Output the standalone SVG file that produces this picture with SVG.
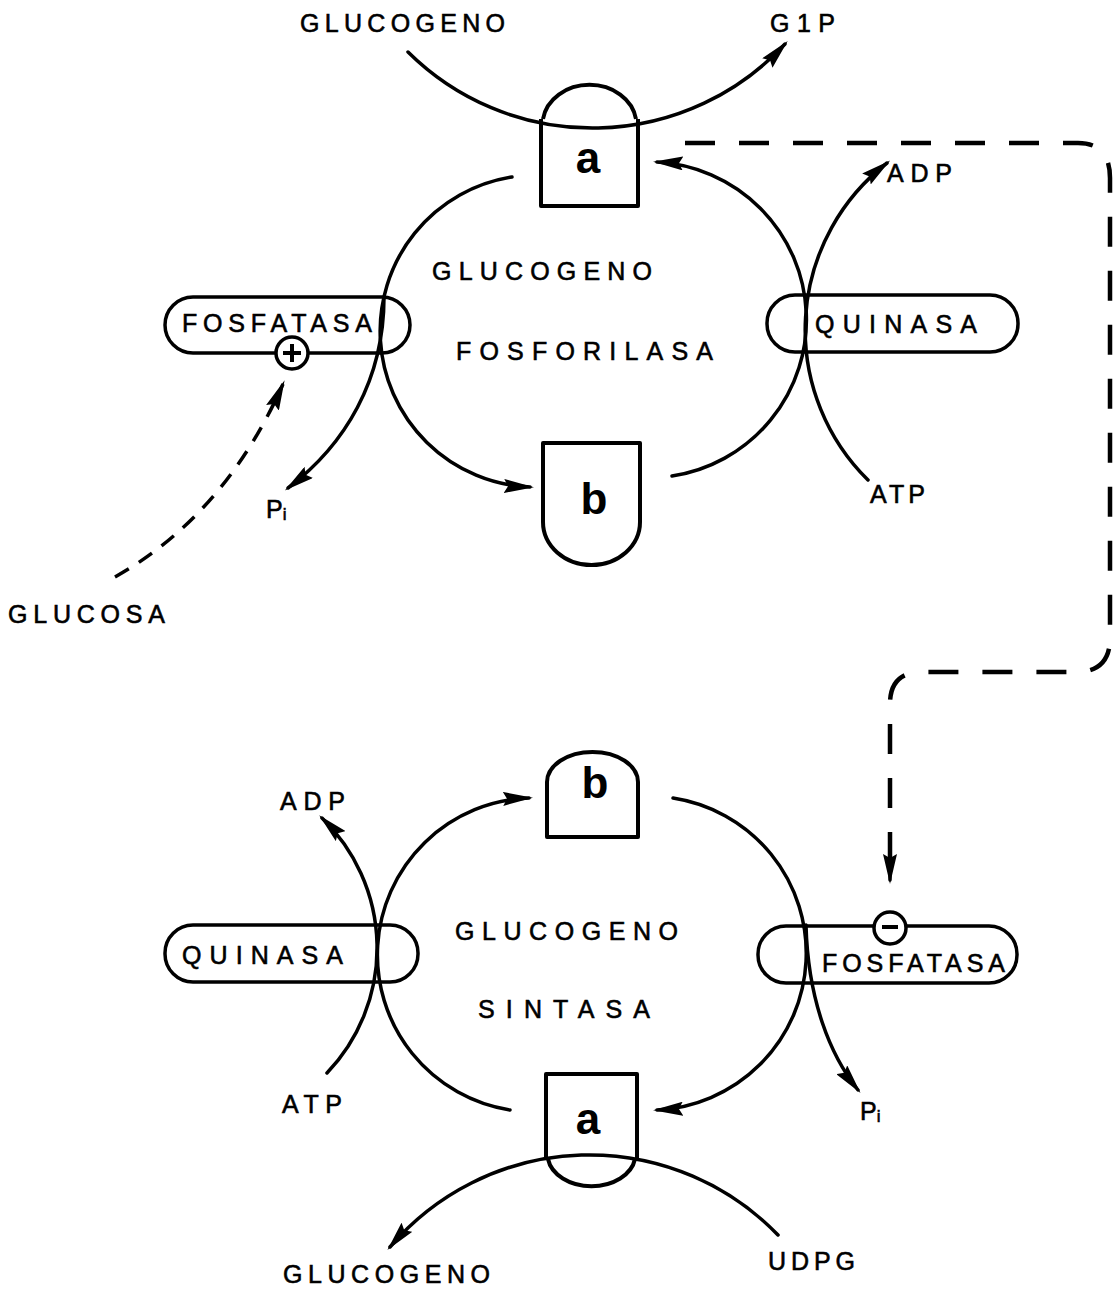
<svg xmlns="http://www.w3.org/2000/svg" width="1113" height="1291" viewBox="0 0 1113 1291">
  <style>
    .ln { fill: none; stroke: #000; stroke-width: 3.5; stroke-linecap: round; }
    .ds { fill: none; stroke: #000; stroke-width: 4.5; stroke-dasharray: 30 24; }
    .dg { fill: none; stroke: #000; stroke-width: 3.5; stroke-dasharray: 16 12; }
    .box { fill: none; stroke: #000; stroke-width: 4; stroke-linejoin: round; }
    .pill { fill: #fff; stroke: #000; stroke-width: 3.5; }
    .lbl { font-family: "Liberation Sans", Arial, sans-serif; font-size: 25px; fill: #000; stroke: #000; stroke-width: 0.6; }
    .big { font-family: "Liberation Sans", Arial, sans-serif; font-size: 44px; font-weight: bold; fill: #000; text-anchor: middle; }
    .mod { fill: #fff; stroke: #000; stroke-width: 3.5; }
  </style>
  <defs>
    <marker id="ah" viewBox="0 0 30 14" refX="26" refY="7" markerWidth="30" markerHeight="14" markerUnits="userSpaceOnUse" orient="auto">
      <path d="M0,0 L30,7 L0,14 L4,7 Z" fill="#000"/>
    </marker>
  </defs>
  <rect width="1113" height="1291" fill="#fff"/>

  <!-- enzyme pills (drawn first so the reaction arcs cross over them) -->
  <g id="fosfatasa-top">
    <rect class="pill" x="165" y="297" width="245" height="56" rx="28"/>
    <text class="lbl" x="182" y="332" textLength="190" lengthAdjust="spacing">FOSFATASA</text>
  </g>
  <g id="quinasa-top">
    <rect class="pill" x="767" y="295" width="251" height="57" rx="28"/>
    <text class="lbl" x="815" y="333" textLength="162" lengthAdjust="spacing">QUINASA</text>
  </g>
  <g id="quinasa-bottom">
    <rect class="pill" x="165" y="925" width="253" height="57" rx="28"/>
    <text class="lbl" x="182" y="964" textLength="161" lengthAdjust="spacing">QUINASA</text>
  </g>
  <g id="fosfatasa-bottom">
    <rect class="pill" x="758" y="926" width="259" height="57" rx="28"/>
    <text class="lbl" x="822" y="972" textLength="183" lengthAdjust="spacing">FOSFATASA</text>
  </g>

  <!-- connectors -->
  <g id="connectors">
    <!-- glycogen phosphorylase cycle -->
    <path class="ln" d="M408,52 A262,262 0 0,0 785,44" marker-end="url(#ah)"/>
    <path class="ln" d="M512,177 A156,156 0 0,0 530,487" marker-end="url(#ah)"/>
    <path class="ln" d="M672,476 A158,158 0 0,0 657,162" marker-end="url(#ah)"/>
    <path class="ln" d="M868,480 A211,211 0 0,1 887,163" marker-end="url(#ah)"/>
    <path class="ln" d="M384,297 C384,380 345,445 288,488" marker-end="url(#ah)"/>
    <path class="dg" d="M115,577 Q225,515 283,384" marker-end="url(#ah)"/>
    <!-- glycogen synthase cycle -->
    <path class="ln" d="M510,1110 A157,157 0 0,1 529,798" marker-end="url(#ah)"/>
    <path class="ln" d="M673,798 A157,157 0 0,1 657,1110" marker-end="url(#ah)"/>
    <path class="ln" d="M327,1073 A181,181 0 0,0 322,818" marker-end="url(#ah)"/>
    <path class="ln" d="M806,925 C808,1000 830,1055 858,1090" marker-end="url(#ah)"/>
    <path class="ln" d="M778,1235 A262,262 0 0,0 390,1247" marker-end="url(#ah)"/>
    <!-- feedback from phosphorylase a to synthase phosphatase -->
    <path class="ds" d="M685,143 H1078 Q1110,143 1110,178 V638 Q1110,672 1076,672 H922 Q890,672 890,704 V872"/>
    <path class="ln" d="M890,872 V880" marker-end="url(#ah)"/>
  </g>

  <!-- allosteric modifiers -->
  <g id="mod-plus">
    <circle class="mod" cx="292" cy="353" r="16"/>
    <path d="M292,344 V362 M283,353 H301" stroke="#000" stroke-width="4"/>
  </g>
  <g id="mod-minus">
    <circle class="mod" cx="890" cy="928" r="16"/>
    <path d="M882,927 H898" stroke="#000" stroke-width="4"/>
  </g>

  <!-- enzyme forms -->
  <g id="phos-a">
    <path class="box" d="M541,119 V206 H638 V119"/>
    <path class="box" d="M543,119 A47,40 0 0,1 636,119"/>
    <text class="big" x="588" y="173">a</text>
  </g>
  <g id="phos-b">
    <path class="box" d="M543,443 H640 V522 A48.5,43 0 0,1 543,522 Z"/>
    <text class="big" x="594" y="514">b</text>
  </g>
  <g id="synt-b">
    <path class="box" d="M547,837 H638 V782 A45.5,30 0 0,0 547,782 Z"/>
    <text class="big" x="595" y="798">b</text>
  </g>
  <g id="synt-a">
    <path class="box" d="M546,1158 V1074 H637 V1158"/>
    <path class="box" d="M548,1159 A44,32 0 0,0 635,1159"/>
    <text class="big" x="588" y="1134">a</text>
  </g>

  <!-- labels -->
  <g id="labels">
    <text class="lbl" x="300" y="32" textLength="205" lengthAdjust="spacing">GLUCOGENO</text>
    <text class="lbl" x="770" y="32" textLength="65" lengthAdjust="spacing">G1P</text>
    <text class="lbl" x="887" y="182" textLength="65" lengthAdjust="spacing">ADP</text>
    <text class="lbl" x="432" y="280" textLength="220" lengthAdjust="spacing">GLUCOGENO</text>
    <text class="lbl" x="456" y="360" textLength="257" lengthAdjust="spacing">FOSFORILASA</text>
    <text class="lbl" x="870" y="503" textLength="55" lengthAdjust="spacing">ATP</text>
    <text class="lbl" x="266" y="518">P<tspan font-size="17" dy="2">i</tspan></text>
    <text class="lbl" x="8" y="623" textLength="157" lengthAdjust="spacing">GLUCOSA</text>
    <text class="lbl" x="280" y="810" textLength="65" lengthAdjust="spacing">ADP</text>
    <text class="lbl" x="455" y="940" textLength="223" lengthAdjust="spacing">GLUCOGENO</text>
    <text class="lbl" x="478" y="1018" textLength="172" lengthAdjust="spacing">SINTASA</text>
    <text class="lbl" x="282" y="1113" textLength="60" lengthAdjust="spacing">ATP</text>
    <text class="lbl" x="860" y="1120">P<tspan font-size="17" dy="2">i</tspan></text>
    <text class="lbl" x="283" y="1283" textLength="207" lengthAdjust="spacing">GLUCOGENO</text>
    <text class="lbl" x="768" y="1270" textLength="87" lengthAdjust="spacing">UDPG</text>
  </g>
</svg>
